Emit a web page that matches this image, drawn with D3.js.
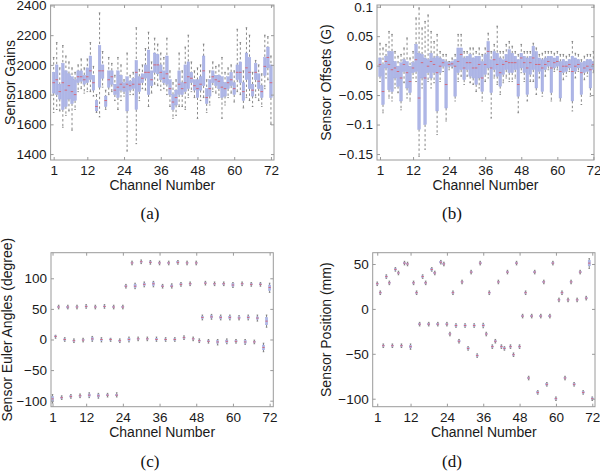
<!DOCTYPE html>
<html><head><meta charset="utf-8">
<script src="https://cdn.jsdelivr.net/npm/d3@7"></script>
<style>body{margin:0;background:#fff}svg{display:block}</style>
</head><body><svg id="chart" width="600" height="472"></svg>
<script>
// ---------- data ----------
const channels = [1,2,3,4,5,6,7,8,9,10,11,12,13,14,15,16,17,18,19,20,21,22,23,24,25,26,27,28,29,30,31,32,33,34,35,36,
  37,38,39,40,41,42,43,44,45,46,47,48,49,50,51,52,53,54,55,56,57,58,59,60,61,62,63,64,65,66,67,68,69,70,71,72];
const xTickValues = [1,12,24,36,48,60,72];
const gainTicks = [1400,1600,1800,2000,2200,2400];
const offsetTicks = [-0.15,-0.1,-0.05,0,0.05,0.1];
const offsetTickLabels = ["\u22120.15","\u22120.1","\u22120.05","0","0.05","0.1"];
const angleTicks = [-100,-50,0,50,100];
const angleTickLabels = ["\u2212100","\u221250","0","50","100"];
const positionTicks = [-100,-50,0,50];
const positionTickLabels = ["\u2212100","\u221250","0","50"];
const captions = ["(a)","(b)","(c)","(d)"];
const yLabels = ["Sensor Gains","Sensor Offsets (G)","Sensor Euler Angles (degree)","Sensor Position (mm)"];
const xLabel = "Channel Number";

// box statistics per channel: [lower whisker, q1, median, q3, upper whisker]
const gains = [
[1680,1810,1880,1950,2050],[1700,1800,1900,2000,2150],[1690,1770,1820,1870,1980],[1580,1700,1880,2010,2130],
[1660,1720,1830,1960,2060],[1690,1770,1860,1940,2020],[1560,1740,1820,1920,1980],[1700,1760,1800,1900,1950],
[1820,1880,1920,1960,2000],[1840,1890,1920,1960,2040],[1810,1870,1900,1930,1980],[1820,1880,1920,1980,2040],
[1820,1900,1960,2060,2150],[1790,1830,1880,1930,1990],[1680,1690,1720,1760,1800],[1650,1850,1960,2130,2350],
[1850,1910,1960,2000,2090],[1700,1720,1760,1790,1830],[1800,1850,1900,1960,2050],[1820,1870,1920,1960,2010],
[1760,1800,1830,1870,1930],[1700,1780,1850,1960,2050],[1760,1830,1870,1930,2000],[1790,1820,1850,1880,1900],
[1420,1690,1870,1920,2080],[1800,1830,1860,1890,1930],[1800,1840,1870,1910,1950],[1470,1700,1950,2030,2250],
[1760,1820,1870,1920,1970],[1840,1880,1910,1940,2000],[1830,1910,1950,2000,2110],[1720,1800,1950,2100,2220],
[1810,1860,1900,1960,2020],[1870,1950,2000,2080,2180],[1860,1940,2000,2070,2140],[1830,1900,1950,2000,2080],
[1840,1880,1910,1960,2050],[1800,1870,1940,2060,2180],[1720,1800,1840,1900,1960],[1640,1700,1750,1800,1880],
[1660,1730,1780,1830,1900],[1720,1800,1870,1960,2080],[1720,1800,1840,1880,1960],[1700,1820,1880,2000,2120],
[1780,1840,1920,2020,2200],[1820,1880,1910,1950,2020],[1780,1830,1860,1900,1960],[1640,1780,1840,1900,1980],
[1760,1830,1870,1920,2000],[1780,1860,1960,2060,2140],[1680,1740,1780,1840,1900],[1730,1790,1840,1900,1960],
[1820,1880,1920,1960,2020],[1810,1860,1900,1930,1990],[1780,1840,1890,1930,2000],[1640,1780,1850,1920,2050],
[1730,1790,1840,1880,1950],[1780,1840,1880,1920,1980],[1810,1860,1900,1950,2000],[1750,1800,1840,1880,1960],
[1820,1900,1950,2000,2240],[1800,1880,1950,2020,2150],[1710,1760,1820,1880,1960],[1780,1900,1980,2080,2250],
[1760,1840,1950,2050,2200],[1720,1790,1830,1870,1950],[1780,1900,1950,2010,2030],[1760,1840,1890,1940,2000],
[1720,1780,1820,1860,1940],[1840,1930,1990,2050,2200],[1900,1980,2050,2120,2190],[1600,1780,1880,2000,2060]
];

const offsets = [
[-0.027,-0.018,0.002,0.013,0.038],[-0.080,-0.066,-0.044,0.002,0.030],[-0.021,-0.004,0.007,0.016,0.036],[-0.055,-0.041,0.002,0.024,0.058],
[-0.060,-0.044,-0.007,0.024,0.053],[-0.038,-0.021,-0.004,0.007,0.024],[-0.046,-0.035,-0.010,-0.001,0.016],[-0.075,-0.060,-0.021,0.005,0.019],
[-0.029,-0.010,0.002,0.010,0.030],[-0.055,-0.038,-0.012,0.007,0.047],[-0.060,-0.046,-0.027,-0.001,0.013],[-0.021,-0.012,-0.004,0.005,0.024],
[-0.027,-0.010,0.010,0.036,0.081],[-0.154,-0.108,-0.055,0.021,0.098],[-0.038,-0.021,0.005,0.019,0.064],[-0.142,-0.100,-0.021,0.013,0.075],
[-0.027,-0.012,-0.001,0.010,0.086],[-0.038,-0.021,0.007,0.021,0.058],[-0.029,-0.012,0.002,0.013,0.041],[-0.117,-0.077,-0.012,0.016,0.053],
[-0.027,-0.012,-0.001,0.013,0.024],[-0.010,-0.001,0.005,0.010,0.019],[-0.094,-0.072,-0.032,0.007,0.019],[-0.007,-0.001,0.002,0.005,0.007],
[-0.004,-0.001,0.003,0.007,0.013],[-0.060,-0.052,-0.001,0.010,0.019],[-0.027,-0.012,0.007,0.030,0.053],[-0.018,-0.007,0.019,0.030,0.053],
[-0.032,-0.024,-0.004,0.013,0.024],[-0.018,-0.007,0.005,0.016,0.024],[-0.029,-0.018,0.005,0.019,0.030],[-0.032,-0.021,-0.004,0.013,0.030],
[-0.044,-0.032,-0.004,0.016,0.024],[-0.038,-0.021,0.002,0.016,0.030],[-0.060,-0.044,-0.021,0.007,0.019],[-0.027,-0.015,0.002,0.019,0.030],
[-0.021,-0.004,0.024,0.041,0.055],[-0.089,-0.046,-0.004,0.010,0.024],[-0.021,-0.007,0.010,0.024,0.036],[-0.032,-0.018,0.002,0.021,0.067],
[-0.049,-0.035,-0.012,0.013,0.024],[-0.029,-0.015,0.002,0.010,0.024],[-0.021,-0.007,0.007,0.019,0.036],[-0.027,-0.012,0.005,0.027,0.041],
[-0.027,-0.012,0.005,0.021,0.033],[-0.021,-0.007,0.005,0.016,0.024],[-0.080,-0.052,-0.032,0.010,0.019],[-0.012,-0.004,0.013,0.021,0.036],
[-0.027,-0.012,0.005,0.016,0.024],[-0.060,-0.049,-0.004,0.013,0.024],[-0.027,-0.015,0.005,0.016,0.024],[-0.027,-0.007,0.013,0.033,0.038],
[-0.049,-0.038,0.002,0.024,0.030],[-0.021,-0.010,0.002,0.013,0.019],[-0.052,-0.044,-0.004,0.010,0.021],[-0.018,-0.007,0.002,0.013,0.024],
[-0.007,-0.001,0.007,0.016,0.024],[-0.060,-0.046,-0.004,0.016,0.024],[-0.010,-0.004,0.005,0.013,0.021],[-0.007,-0.001,0.007,0.016,0.024],
[-0.060,-0.055,-0.010,0.007,0.019],[-0.024,-0.012,-0.001,0.010,0.019],[-0.018,-0.010,-0.001,0.007,0.016],[-0.010,-0.004,0.002,0.010,0.019],
[-0.077,-0.060,-0.010,0.016,0.041],[-0.021,-0.010,-0.001,0.013,0.021],[-0.010,-0.004,0.002,0.010,0.019],[-0.066,-0.049,-0.012,0.005,0.010],
[-0.024,-0.012,-0.004,0.007,0.016],[-0.018,-0.010,-0.001,0.010,0.019],[-0.052,-0.038,-0.007,0.010,0.019],[-0.012,-0.007,0.002,0.007,0.024]
];

const angles = [
[-104,-101,-97,-93,-90],[2,4,5,6,7],[50,52,53,54,56],
[-98,-96,-95,-94,-92],[-3,-1,0,1,3],[50,51.5,53,54,56],
[-96,-94,-93,-92,-90],[-5,-3,-2,-1,1],[50,52,53,54,56],
[-95,-93,-92,-91,-89],[-4,-2,-1,0,2],[51,53,54,55,57],
[-95,-93,-91,-89,-87],[-3,-1,1,3,5],[50,52,53,54,56],
[-96,-94,-92,-90,-88],[-4,-2,0,1,3],[51,53,54,55,57],
[-94,-92,-91,-90,-88],[-3,-1,0,1,2],[50,52,53,54,56],
[-94,-92,-91,-90,-87],[-5,-3,-2,-1,1],[50,52,53,54,56],
[84,86,87,88,90],[-4,-2,0,2,4],[122,124,125,126,128],
[83,85,87,90,92],[-2,0,1,2,4],[124,126,127,128,130],
[86,88,90,92,94],[-2,0,1,2,4],[123,125,126,127,129],
[86,88,91,93,95],[-3,-1,0,2,4],[122,124,125,126,128],
[84,86,87,88,90],[-3,-1,0,1,3],[122,124,125,126,128],
[84,86,87,89,91],[-3,-1,0,1,3],[123,125,126,127,129],
[87,89,90,91,93],[0,2,3,4,6],[122,124,125,126,128],
[88,90,91,92,94],[-2,0,1,2,4],[122,124,125,126,128],
[-5,-3,-2,-1,1],[32,34,36,38,40],[89,91,92,93,95],
[-6,-4,-3,-2,0],[33,35,37,39,41],[88,90,91,92,94],
[-9,-6,-4,-2,0],[32,34,36,38,40],[88,90,91,92,94],
[-7,-5,-3,-1,1],[32,34,36,38,40],[85,87,89,91,93],
[-6,-4,-3,-2,0],[32,34,35,37,39],[88,90,91,92,94],
[-8,-6,-4,-2,0],[32,34,36,38,40],[87,89,90,91,93],
[-7,-5,-4,-3,-1],[30,33,35,37,40],[87,89,90,91,93],
[-20,-17,-13,-9,-6],[20,24,30,36,40],[77,80,85,89,92]
];

const positions = [
[26,27.2,28,28.8,30],[16,17.2,18,18.8,20],[-43,-41.8,-41,-40.2,-39],
[34,35.2,36,36.8,38],[27,28.2,29,29.8,31],[-43,-41.8,-41,-40.2,-39],
[42,43.2,44,44.8,46],[38,39.2,40,40.8,42],[-43,-41.8,-41,-40.2,-39],
[49,50.2,51,51.8,53],[48,49.2,50,50.8,52],[-45,-43.5,-42,-40.5,-39],
[27,28.2,29,29.8,31],[16,17.2,18,18.8,20],[-19,-17.8,-17,-16.2,-15],
[34,35.2,36,36.8,38],[27,28.2,29,29.8,31],[-19,-17.8,-17,-16.2,-15],
[42,43.2,44,44.8,46],[38,39.2,40,40.8,42],[-19,-17.8,-17,-16.2,-15],
[50,51.2,52,52.8,54],[48,49.2,50,50.8,52],[-19,-17.8,-17,-16.2,-15],
[-30,-28.8,-28,-27.2,-26],[16,17.2,18,18.8,20],[-20.5,-19.3,-18.5,-17.7,-16.5],
[-38,-36.8,-36,-35.2,-34],[28,29.2,30,30.8,32],[-20.5,-19.3,-18.5,-17.7,-16.5],
[-46,-44.8,-44,-43.2,-42],[39,40.2,41,41.8,43],[-20.5,-19.3,-18.5,-17.7,-16.5],
[-54,-52.8,-52,-51.2,-50],[49,50.2,51,51.8,53],[-21,-19.5,-18.5,-17.5,-16],
[-30,-28.8,-28,-27.2,-26],[16,17.2,18,18.8,20],[-44,-42.8,-42,-41.2,-40],
[-38,-36.8,-36,-35.2,-34],[28,29.2,30,30.8,32],[-44,-42.8,-42,-41.2,-40],
[-46,-44.8,-44,-43.2,-42],[39,40.2,41,41.8,43],[-44,-42.8,-42,-41.2,-40],
[-53,-51.8,-51,-50.2,-49],[49,50.2,51,51.8,53],[-44,-42.8,-42,-41.2,-40],
[-10,-8.8,-8,-7.2,-6],[16,17.2,18,18.8,20],[-79,-77.8,-77,-76.2,-75],
[-10,-8.8,-8,-7.2,-6],[39,40.2,41,41.8,43],[-95,-93.8,-93,-92.2,-91],
[-10,-8.8,-8,-7.2,-6],[28,29.2,30,30.8,32],[-86,-84.8,-84,-83.2,-82],
[-10,-8.8,-8,-7.2,-6],[49,50.2,51,51.8,53],[-102,-100.8,-100,-99.2,-98],
[8,9.2,10,10.8,12],[16,17.2,18,18.8,20],[-79,-77.8,-77,-76.2,-75],
[8,9.2,10,10.8,12],[28,29.2,30,30.8,32],[-86,-84.8,-84,-83.2,-82],
[8,9.2,10,10.8,12],[39,40.2,41,41.8,43],[-95,-93.8,-93,-92.2,-91],
[10,11.2,12,12.8,14],[45,48,51,54,56],[-102,-101,-100,-99,-98]
];

// ---------- layout ----------
const panels = [
  {stats:gains, left:50.6, right:274, top:5, bottom:160, xDomain:[0,73], yDomain:[1360,2403],
   yTicks:gainTicks, yTickLabels:gainTicks.map(String), ylab:yLabels[0], ylabX:14.5, cap:captions[0], capX:150, capY:219, bw:2.6},
  {stats:offsets, left:377, right:594, top:5, bottom:160, xDomain:[0,72.2], yDomain:[-0.1602,0.1029],
   yTicks:offsetTicks, yTickLabels:offsetTickLabels, ylab:yLabels[1], ylabX:331, cap:captions[1], capX:452, capY:219, bw:2.6},
  {stats:angles, left:51, right:273.3, top:252.7, bottom:406.7, xDomain:[0.5,73.2], yDomain:[-109.8,141.8],
   yTicks:angleTicks, yTickLabels:angleTickLabels, ylab:yLabels[2], ylabX:11.5, cap:captions[2], capX:150, capY:467, bw:2.2},
  {stats:positions, left:372.7, right:595, top:252.7, bottom:406.7, xDomain:[-0.5,72.9], yDomain:[-108.9,62.6],
   yTicks:positionTicks, yTickLabels:positionTickLabels, ylab:yLabels[3], ylabX:331, cap:captions[3], capX:452, capY:467, bw:2.2}
];

const svg = d3.select("#chart");
const SANS = "'Liberation Sans', Arial, Helvetica, sans-serif";
const SERIF = "'Liberation Serif', 'Times New Roman', serif";
const FRAME = "#9a9a9a";

panels.forEach((p, pi) => {
  const x = d3.scaleLinear().domain(p.xDomain).range([p.left, p.right]);
  const y = d3.scaleLinear().domain(p.yDomain).range([p.bottom, p.top]);
  const g = svg.append("g");
  const clipId = "clip" + pi;
  svg.append("clipPath").attr("id", clipId).append("rect")
    .attr("x", p.left).attr("y", p.top).attr("width", p.right - p.left).attr("height", p.bottom - p.top);

  const items = p.stats.map((s, i) => ({c: channels[i], lo: s[0], q1: s[1], med: s[2], q3: s[3], hi: s[4]}));
  const plot = g.append("g").attr("clip-path", `url(#${clipId})`);
  const bx = plot.selectAll("g.bx").data(items).join("g").attr("class", "bx");

  // whiskers (dashed)
  bx.append("line").attr("x1", d => x(d.c)).attr("x2", d => x(d.c))
    .attr("y1", d => y(d.hi)).attr("y2", d => y(d.q3))
    .attr("stroke", "#737373").attr("stroke-width", 0.85).attr("stroke-dasharray", "2.4,2.4");
  bx.append("line").attr("x1", d => x(d.c)).attr("x2", d => x(d.c))
    .attr("y1", d => y(d.q1)).attr("y2", d => y(d.lo))
    .attr("stroke", "#737373").attr("stroke-width", 0.85).attr("stroke-dasharray", "2.4,2.4");
  // whisker caps
  bx.append("line").attr("x1", d => x(d.c) - 0.8).attr("x2", d => x(d.c) + 0.8)
    .attr("y1", d => y(d.hi)).attr("y2", d => y(d.hi)).attr("stroke", "#666").attr("stroke-width", 0.7);
  bx.append("line").attr("x1", d => x(d.c) - 0.8).attr("x2", d => x(d.c) + 0.8)
    .attr("y1", d => y(d.lo)).attr("y2", d => y(d.lo)).attr("stroke", "#666").attr("stroke-width", 0.7);
  // box
  bx.append("rect").attr("x", d => x(d.c) - p.bw / 2).attr("width", p.bw)
    .attr("y", d => y(d.q3)).attr("height", d => Math.max(0.6, y(d.q1) - y(d.q3)))
    .attr("fill", "#aeb6e6").attr("stroke", "#98a2de").attr("stroke-width", 0.4);
  // median
  bx.append("line").attr("x1", d => x(d.c) - p.bw / 2).attr("x2", d => x(d.c) + p.bw / 2)
    .attr("y1", d => y(d.med)).attr("y2", d => y(d.med))
    .attr("stroke", "#d8606e").attr("stroke-width", 0.9);

  // frame
  g.append("rect").attr("x", p.left).attr("y", p.top)
    .attr("width", p.right - p.left).attr("height", p.bottom - p.top)
    .attr("fill", "none").attr("stroke", FRAME).attr("stroke-width", 1);

  // axes (ticks pointing inward)
  const styleAxis = sel => {
    sel.select(".domain").remove();
    sel.selectAll(".tick line").attr("stroke", FRAME);
    sel.selectAll("text").attr("fill", "#1a1a1a").style("font-family", SANS).style("font-size", "13.5px");
  };
  g.append("g").attr("transform", `translate(0,${p.bottom})`)
    .call(d3.axisBottom(x).tickValues(xTickValues).tickFormat(d3.format("d")).tickSize(-3).tickPadding(5.5))
    .call(styleAxis);
  g.append("g").attr("transform", `translate(0,${p.top})`)
    .call(d3.axisTop(x).tickValues(xTickValues).tickFormat("").tickSize(-3))
    .call(styleAxis);
  g.append("g").attr("transform", `translate(${p.left},0)`)
    .call(d3.axisLeft(y).tickValues(p.yTicks).tickFormat((d, i) => p.yTickLabels[i]).tickSize(-3).tickPadding(4))
    .call(styleAxis);
  g.append("g").attr("transform", `translate(${p.right},0)`)
    .call(d3.axisRight(y).tickValues(p.yTicks).tickFormat("").tickSize(-3))
    .call(styleAxis);

  // labels
  g.append("text").attr("x", (p.left + p.right) / 2).attr("y", p.bottom + 30)
    .attr("text-anchor", "middle").attr("fill", "#1a1a1a")
    .style("font-family", SANS).style("font-size", "14px").text(xLabel);
  g.append("text").attr("transform", `translate(${p.ylabX},${(p.top + p.bottom) / 2}) rotate(-90)`)
    .attr("text-anchor", "middle").attr("fill", "#1a1a1a")
    .style("font-family", SANS).style("font-size", "14px").text(p.ylab);
  g.append("text").attr("x", p.capX).attr("y", p.capY)
    .attr("text-anchor", "middle").attr("fill", "#111")
    .style("font-family", SERIF).style("font-size", "17px").text(p.cap);
});
</script>
</body></html>
